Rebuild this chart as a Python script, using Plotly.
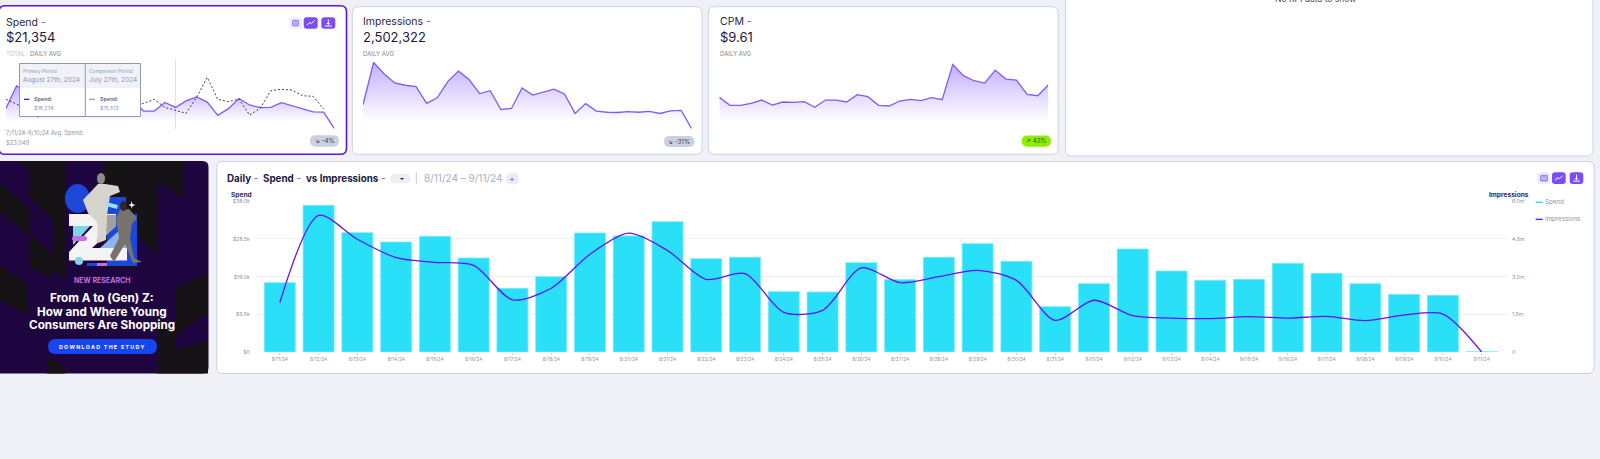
import plotly.graph_objects as go

W, H = 1600, 459

# daily report, 8/11/24 - 9/11/24
dates = ["8/11/24", "8/12/24", "8/13/24", "8/14/24", "8/15/24", "8/16/24", "8/17/24", "8/18/24",
         "8/19/24", "8/20/24", "8/21/24", "8/22/24", "8/23/24", "8/24/24", "8/25/24", "8/26/24",
         "8/27/24", "8/28/24", "8/29/24", "8/30/24", "8/31/24", "9/01/24", "9/02/24", "9/03/24",
         "9/04/24", "9/05/24", "9/06/24", "9/07/24", "9/08/24", "9/09/24", "9/10/24", "9/11/24"]
spend = [17490, 36990, 30100, 27740, 29170, 23710, 16060, 19000,
         30010, 29260, 32870, 23540, 23880, 15220, 15130, 22530,
         18274, 23880, 27320, 22870, 11430, 17230, 25980, 20430,
         18080, 18330, 22360, 19840, 17230, 14540, 14290, 60]
impressions = [1965000, 5440000, 4490000, 3760000, 3570000, 3450000, 2080000, 2540000,
               3890000, 4730000, 4040000, 2890000, 3120000, 1580000, 1660000, 3350000,
               2760000, 3000000, 3250000, 2850000, 1260000, 2060000, 1450000, 1350000,
               1330000, 1410000, 1350000, 1420000, 1250000, 1470000, 1510000, 0]
cpm = [8.91, 6.73, 6.73, 7.27, 8.18, 6.82, 7.64, 7.55, 7.73, 6.18, 8.18, 8.18, 7.64, 9.64, 9.09, 6.73,
       6.55, 7.91, 8.36, 8.00, 8.82, 8.27, 17.9, 14.82, 13.45, 12.82, 16.36, 13.91, 13.64, 9.73, 9.36, 12.27]
spend_prev = [25240, 21220, 16060, 10040, 13190, 17490, 18930, 16060, 18930, 17490, 18930, 19500,
              19500, 21800, 25240, 18350, 15513, 13190, 26960, 44160, 25240, 23230, 25520, 11760,
              17490, 32690, 33840, 33270, 28390, 27820, 16920]

spend_ticks = [0, 9500, 19000, 28500, 38000]
spend_tick_labels = ["$0", "$9.5k", "$19.0k", "$28.5k", "$38.0k"]
impr_ticks = [0, 1500000, 3000000, 4500000, 6000000]
impr_tick_labels = ["0", "1.5m", "3.0m", "4.5m", "6.0m"]

BG = "#eff1f6"
PURPLE = "#7a4df5"
SPARK = "#7c5cf6"
INK = "#1d1840"
GRAY = "#8f93a6"
FONT = "Inter"


def px(x):
    return x / W


def py(y):
    return 1 - y / H


def rrect(x0, y0, x1, y1, r, fill, line=None, width=1, layer="below"):
    a, b, c, d = px(x0), py(y0), px(x1), py(y1)
    rx, ry = r / W, r / H
    path = (f"M{a + rx},{b} L{c - rx},{b} Q{c},{b} {c},{b - ry} L{c},{d + ry} Q{c},{d} {c - rx},{d} "
            f"L{a + rx},{d} Q{a},{d} {a},{d + ry} L{a},{b - ry} Q{a},{b} {a + rx},{b} Z")
    return dict(type="path", path=path, xref="paper", yref="paper", fillcolor=fill, layer=layer,
                line=dict(color=line or fill, width=width if line else 0))


def poly(points, fill, layer="below"):
    path = "M" + " L".join(f"{px(x)},{py(y)}" for x, y in points) + " Z"
    return dict(type="path", path=path, xref="paper", yref="paper", fillcolor=fill, layer=layer,
                line=dict(width=0))


def dot(x0, y0, x1, y1, fill):
    return dict(type="circle", xref="paper", yref="paper", x0=px(x0), x1=px(x1), y0=py(y0), y1=py(y1),
                fillcolor=fill, line=dict(width=0), layer="below")


def seg(x0, y0, x1, y1, color, width=1, layer="above"):
    return dict(type="line", xref="paper", yref="paper", x0=px(x0), x1=px(x1), y0=py(y0), y1=py(y1),
                layer=layer, line=dict(color=color, width=width))


def label(x, y, text, size, color=INK, anchor="left", family=FONT):
    return dict(x=px(x), y=py(y), xref="paper", yref="paper", text=text, showarrow=False,
                xanchor=anchor, yanchor="middle", font=dict(size=size, color=color, family=family),
                borderpad=0, borderwidth=0)


def toolbar(x_box, x_a, x_b, y0, y1):
    w = x_a[1] - x_a[0]
    xm, ym = (x_a[0] + x_a[1]) / 2, (y0 + y1) / 2
    xd = (x_b[0] + x_b[1]) / 2
    out = [rrect(x_box[0], y0, x_box[1], y1, 3, "#eceef8", layer="above"),
           rrect(x_box[0] + 3, y0 + 2.5, x_box[1] - 3, y1 - 2.5, 1.5, "#9d84f5", layer="above"),
           seg(x_box[0] + 4, ym - 1, x_box[1] - 4, ym - 1, "#eceef8", 0.8),
           seg(x_box[0] + 4, ym + 1, x_box[1] - 4, ym + 1, "#eceef8", 0.8),
           rrect(x_a[0], y0, x_a[1], y1, 3, PURPLE, layer="above"),
           rrect(x_b[0], y0, x_b[1], y1, 3, PURPLE, layer="above"),
           seg(xm - w * 0.28, ym + 2, xm - w * 0.06, ym - 0.5, "white", 1),
           seg(xm - w * 0.06, ym - 0.5, xm + w * 0.06, ym + 0.5, "white", 1),
           seg(xm + w * 0.06, ym + 0.5, xm + w * 0.28, ym - 2.5, "white", 1),
           seg(xd, ym - 3.5, xd, ym + 1, "white", 1),
           seg(xd - 3.5, ym + 3, xd + 3.5, ym + 3, "white", 1),
           poly([(xd - 2, ym), (xd + 2, ym), (xd, ym + 2)], "white", layer="above")]
    return out


fig = go.Figure()

# main chart
fig.add_trace(go.Bar(x=dates, y=spend, name="Spend", xaxis="x", yaxis="y", width=0.8,
                     marker=dict(color="#29e0f8", line=dict(color="#7debfb", width=0.8))))
fig.add_trace(go.Scatter(x=dates, y=impressions, name="Impressions", xaxis="x", yaxis="y5", mode="lines",
                         line=dict(color="#6a10f0", width=1.3, shape="spline", smoothing=0.8)))


def spark(values, xa, ya, peak, fade_to):
    idx = list(range(len(values)))
    fig.add_trace(go.Scatter(
        x=idx, y=values, xaxis=xa, yaxis=ya, mode="lines", fill="tozeroy",
        line=dict(color=SPARK, width=1.3),
        fillgradient=dict(type="vertical", start=fade_to, stop=peak,
                          colorscale=[[0, "rgba(124,77,255,0)"], [1, "rgba(124,77,255,0.45)"]])))


spark(spend, "x2", "y2", max(spend), 5800)
fig.add_trace(go.Scatter(x=list(range(len(spend_prev))), y=spend_prev, xaxis="x2", yaxis="y2", mode="lines",
                         line=dict(color="#2c2748", width=0.9, dash="2px,2px")))
spark(impressions, "x3", "y3", max(impressions), 550000)
spark(cpm, "x4", "y4", max(cpm), 2.2)


def hidden_x(x0, x1, n):
    return dict(domain=[px(x0), px(x1)], range=[0, n], visible=False, fixedrange=True, automargin=False)


def hidden_y(anchor, top, bottom, rng):
    return dict(domain=[py(bottom), py(top)], range=rng, visible=False, anchor=anchor, fixedrange=True,
                automargin=False)


fig.update_layout(
    width=W, height=H, margin=dict(l=0, r=0, t=0, b=0, pad=0), autosize=False,
    paper_bgcolor=BG, plot_bgcolor="rgba(0,0,0,0)", showlegend=False, bargap=0.2,
    font=dict(family=FONT, color=INK),
    xaxis=dict(domain=[px(255), px(1508)], range=[-0.64, 31.68], type="category", showgrid=False, zeroline=False,
               showline=False, ticks="outside", ticklen=1.5, tickwidth=0.5, tickcolor="#c8ccd8",
               tickangle=0, ticklabelstandoff=1, tickfont=dict(size=4.8, color=GRAY), anchor="y",
               tickmode="array", tickvals=dates, ticktext=dates, automargin=False),
    yaxis=dict(domain=[py(352), py(201.3)], range=[0, 38000], tickvals=spend_ticks, ticktext=spend_tick_labels,
               gridcolor="#f0f1f5", gridwidth=1, zeroline=False, showline=False, automargin=False,
               ticklabelstandoff=4, tickfont=dict(size=5.3, color=GRAY), anchor="x"),
    yaxis5=dict(domain=[py(352), py(201.3)], range=[0, 6000000], tickvals=impr_ticks, ticktext=impr_tick_labels,
                overlaying="y", side="right", showgrid=False, zeroline=False, showline=False, automargin=False,
                ticklabelstandoff=3, tickfont=dict(size=5.3, color=GRAY), anchor="x"),
    xaxis2=hidden_x(6, 334.3, 31),
    yaxis2=hidden_y("x2", 40, 128.7, [0, 76300]),
    xaxis3=hidden_x(363, 691.7, 31),
    yaxis3=hidden_y("x3", 30, 128.7, [0, 8110000]),
    xaxis4=hidden_x(719.3, 1048.3, 31),
    yaxis4=hidden_y("x4", 30, 130, [0, 27.3]),
)

shapes = []
# cards
shapes.append(rrect(-1, 5.7, 346.5, 154.3, 6, "white", "#5a14e6", 1.6))
shapes.append(rrect(352.3, 6.7, 702, 154.3, 6, "white", "#ccd2e2", 1))
shapes.append(rrect(708.3, 6.7, 1058, 154.3, 6, "white", "#ccd2e2", 1))
shapes.append(rrect(1065.5, -12, 1593, 156, 6, "white", "#ccd2e2", 1))
shapes.append(rrect(216.7, 161.5, 1594, 373.5, 6, "white", "#ccd2e2", 1))

# ad banner
shapes.append(rrect(-6, 161, 208.5, 373.5, 6, "#1f0540"))
DARK = "#151316"
for pts in [
    [(53.3, 161), (65, 161), (65, 278), (53.3, 270)],
    [(18, 161), (53.3, 161), (53.3, 190), (30, 171)],
    [(30, 171), (53.3, 190), (53.3, 221), (30, 198)],
    [(0, 183), (29, 208), (29, 235), (0, 213)],
    [(29, 233), (53.3, 255), (53.3, 278), (29, 268)],
    [(0, 265), (28, 285), (28, 315), (0, 300)],
    [(47, 355), (65, 368), (65, 373.5), (47, 373.5)],
    [(103, 161), (183, 161), (183, 198), (157, 181), (157, 255), (138, 236), (138, 268), (103, 268)],
    [(176, 288), (208, 273), (208, 312), (176, 335)],
    [(157, 315), (176, 330), (176, 373.5), (157, 373.5)],
    [(176, 350), (208, 340), (208, 373.5), (176, 373.5)],
]:
    shapes.append(poly(pts, DARK))

# illustration above the headline
shapes.append(dot(65, 184, 90, 213, "#1e46d8"))
shapes.append(poly([(107, 197), (126, 197), (126, 214), (137, 214), (137, 265), (107, 265)], "#1e46d8"))
shapes.append(poly([(69, 214), (116, 214), (116, 226), (92, 248), (127, 248), (127, 260.5), (69, 260.5),
                    (69, 252), (93, 226), (69, 226)], "#f4f4f6"))
shapes.append(poly([(73, 226), (90, 226), (73, 245)], "#7fd4ec"))
shapes.append(rrect(72, 236, 87, 241, 2.5, "#c26fe0"))
shapes.append(poly([(100, 215), (116, 215), (116, 226), (97, 243)], "#a0a0a2"))
shapes.append(poly([(100, 248), (122, 228), (127, 248)], "#8fb4ec"))
shapes.append(poly([(98, 184), (105, 184), (118, 186), (120, 192), (110, 196), (107, 215), (106, 240), (98, 243),
                    (97, 222), (88, 213), (83, 200)], "#d6d4cd"))
shapes.append(dot(97, 173, 105, 184, "#8d8c86"))
shapes.append(poly([(120, 210), (129, 209), (137, 218), (132, 224), (130, 238), (134, 258), (142, 262), (133, 263),
                    (125, 244), (114, 262), (110, 256), (119, 238), (116, 218)], "#77736c"))
shapes.append(dot(120, 201, 127, 211, "#2a2730"))
shapes.append(poly([(131, 201), (132.5, 204), (135.5, 205), (132.5, 206), (132, 209), (131, 206), (128.5, 205), (131, 204)], "white"))
shapes.append(poly([(106, 202), (118, 205), (117, 209), (106, 206)], "#9be0f0"))
shapes.append(poly([(87, 263), (137, 263), (137, 266), (87, 266)], "#1e46d8"))
shapes.append(poly([(97, 263), (107, 263), (107, 266), (97, 266)], "#c26fe0"))
shapes.append(dot(75, 257, 83, 265, "#7fd4ec"))
shapes.append(rrect(48, 339, 157, 354, 7.5, "#1746f0"))

# hover marker on the Spend sparkline
shapes.append(dict(type="line", xref="x2", yref="paper", x0=16, x1=16, y0=py(59), y1=py(129),
                   line=dict(color="#dfe2ea", width=1), layer="below"))
# tooltip
shapes.append(dict(type="rect", xref="paper", yref="paper", x0=px(19.5), x1=px(140.5), y0=py(63.5), y1=py(116.5),
                   fillcolor="white", line=dict(color="#8d99b0", width=1), layer="above"))
shapes.append(dict(type="rect", xref="paper", yref="paper", x0=px(20), x1=px(140), y0=py(64), y1=py(88.3),
                   fillcolor="#f0f2f8", line=dict(width=0), layer="above"))
shapes.append(seg(85.3, 63.5, 85.3, 116.5, "#8d99b0", 1))
shapes.append(seg(24, 99.3, 29.3, 99.3, "#4a00e0", 1.2))
shapes.append(seg(89, 99.3, 95, 99.3, "#9a9aa8", 1.2))

# toolbars
shapes += toolbar((289, 302), (303.7, 317.7), (321.3, 335.3), 17.3, 28.7)
shapes += toolbar((1537, 1551), (1552, 1565.7), (1569.7, 1583.3), 172.3, 184)

# badges
shapes.append(rrect(310, 135.3, 339, 146.7, 5.7, "#c9d0df", layer="above"))
shapes.append(rrect(664, 136, 694.3, 147, 5.5, "#c9d0df", layer="above"))
shapes.append(rrect(1021.7, 135.5, 1051, 146.7, 5.6, "#8fee00", layer="above"))

# chart header controls and legend
shapes.append(rrect(390.3, 174, 410.3, 183.3, 4.6, "#eceef6"))
shapes.append(poly([(400, 178), (404, 178), (402, 180)], "#1d1840"))
shapes.append(seg(416.3, 172, 416.3, 184, "#c9cede", 1, layer="below"))
shapes.append(rrect(505.7, 173, 519, 184.5, 5.7, "#eceef6"))
shapes.append(seg(1535.7, 202.3, 1542.7, 202.3, "#00d8ee", 1.2))
shapes.append(seg(1535.7, 219.3, 1542.7, 219.3, "#4a00e0", 1.2))

DASH = "<span style='color:#7a4df5'> -</span>"
notes = [
    label(6, 22.7, "Spend" + DASH, 10.5, "#2a2748"),
    label(6, 37.3, "$21,354", 13, INK),
    label(6, 53.7, "TOTAL", 6, "#c3c6d2"),
    label(30, 53.7, "DAILY AVG", 6, "#7c7f95"),
    label(6, 133, "7/11/24-8/10/24 Avg. Spend:", 5.8, GRAY),
    label(6, 142.7, "$23,049", 5.8, GRAY),
    label(324.5, 141, "↘ -4%", 6.3, "#3c4058", "center"),
    label(363, 22, "Impressions" + DASH, 10.5, "#2a2748"),
    label(363, 36.5, "2,502,322", 13, INK),
    label(363, 53, "DAILY AVG", 6, "#8a7f8f"),
    label(679, 141.5, "↘ -31%", 6.3, "#3c4058", "center"),
    label(719.5, 22, "CPM" + DASH, 10.5, "#2a2748"),
    label(719.5, 36.5, "$9.61", 13, INK),
    label(719.5, 53, "DAILY AVG", 6, "#7c7f95"),
    label(1036.3, 141, "↗ 43%", 6.3, "#2f5a00", "center"),
    label(1315, -1, "No KPI data to show", 8.5, "#4a4a55", "center"),
    # tooltip
    label(23.3, 70.7, "Primary Period", 4.8, "#9aa0b5"),
    label(23.3, 80.3, "August 27th, 2024", 6.5, "#8f95aa"),
    label(89, 70.7, "Comparison Period", 4.8, "#9aa0b5"),
    label(89, 80.3, "July 27th, 2024", 6.5, "#8f95aa"),
    label(34.3, 99.3, "<b>Spend:</b>", 5.3, "#6f7488"),
    label(34.3, 107.7, "$18,274", 5.3, "#8f95aa"),
    label(100, 99.3, "<b>Spend:</b>", 5.3, "#6f7488"),
    label(100, 107.7, "$15,513", 5.3, "#8f95aa"),
    # banner
    label(102.3, 280.3, "<b>NEW RESEARCH</b>", 7, "#c26fe0", "center"),
    label(102.3, 298.3, "<b>From A to (Gen) Z:</b>", 11.7, "white", "center"),
    label(102.3, 311.5, "<b>How and Where Young</b>", 11.7, "white", "center"),
    label(102.3, 324.7, "<b>Consumers Are Shopping</b>", 11.7, "white", "center"),
    label(102.3, 346.5, "<b>D O W N L O A D   T H E   S T U D Y</b>", 5.3, "white", "center"),
    # main chart header
    label(226.7, 178, "<b>Daily</b>" + DASH, 9.8),
    label(262.7, 178, "<b>Spend</b>" + DASH, 9.8),
    label(305.7, 178, "<b>vs Impressions</b>" + DASH, 9.8),
    label(423.7, 178, "8/11/24 – 9/11/24", 10, "#a9aec0"),
    label(512.3, 178, "+", 9, "#7c8095", "center"),
    label(231, 195.3, "<b>Spend</b>", 6.6, "#2f2a68"),
    label(1489.3, 195.3, "<b>Impressions</b>", 6.6, "#2f2a68"),
    label(1544.7, 202.3, "Spend", 6.2, GRAY),
    label(1544.7, 219.3, "Impressions", 6.2, GRAY),
]
fig.update_layout(shapes=shapes, annotations=notes)

fig.write_html("out.html", config=dict(displayModeBar=False),
               post_script="document.body.style.margin='0';document.body.style.overflow='hidden';")
